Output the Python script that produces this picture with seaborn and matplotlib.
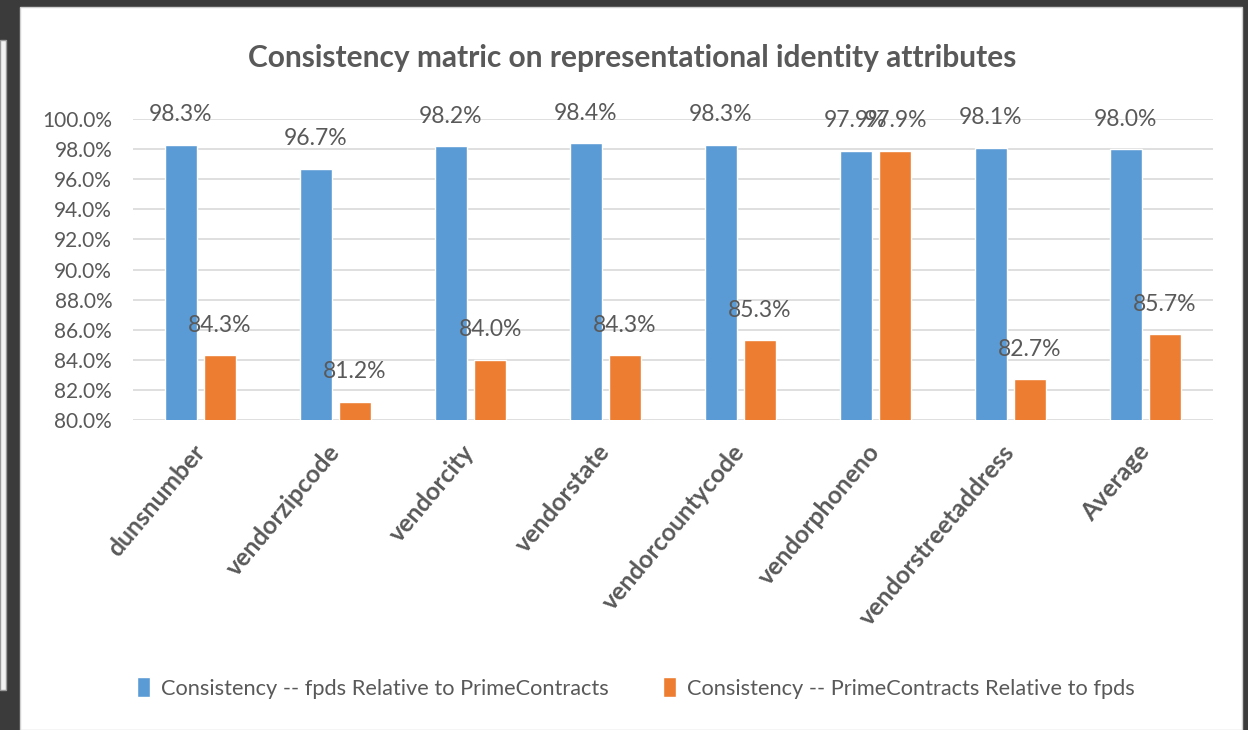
import matplotlib
matplotlib.use("Agg")
import matplotlib.pyplot as plt
import matplotlib.patches as mpatches
import seaborn as sns
import pandas as pd
from matplotlib.ticker import FuncFormatter

categories = ["dunsnumber", "vendorzipcode", "vendorcity", "vendorstate",
              "vendorcountycode", "vendorphoneno", "vendorstreetaddress", "Average"]
fpds_rel_prime = [98.3, 96.7, 98.2, 98.4, 98.3, 97.9, 98.1, 98.0]
prime_rel_fpds = [84.3, 81.2, 84.0, 84.3, 85.3, 97.9, 82.7, 85.7]
series_names = ["Consistency -- fpds Relative to PrimeContracts",
                "Consistency -- PrimeContracts Relative to fpds"]
title = "Consistency matric on representational identity attributes"

df = pd.DataFrame({
    "category": categories * 2,
    "value": fpds_rel_prime + prime_rel_fpds,
    "series": [series_names[0]] * len(categories) + [series_names[1]] * len(categories),
})

sns.set_theme(style="white")
plt.rcParams["font.family"] = ["Lato", "DejaVu Sans"]
TXT = "#595959"

fig = plt.figure(figsize=(12.48, 7.30), dpi=100, facecolor="#3b3b3b")
# white chart area inside dark screenshot frame
fig.patches.append(mpatches.Rectangle((20 / 1248, 0), 1222 / 1248, 723 / 730,
                                      transform=fig.transFigure, facecolor="white",
                                      edgecolor="#d0d0d0", lw=1, zorder=-10))
fig.patches.append(mpatches.Rectangle((0, 40 / 730), 6 / 1248, 650 / 730,
                                      transform=fig.transFigure, facecolor="#f2f2f2",
                                      edgecolor="#9a9a9a", lw=1, zorder=-10))

ax = fig.add_axes([133 / 1248, 1 - 420 / 730, 1080 / 1248, 301 / 730])
ax.set_facecolor("none")

palette = {series_names[0]: "#5b9bd5", series_names[1]: "#ed7d31"}
sns.barplot(data=df, x="category", y="value", hue="series", order=categories,
            hue_order=series_names, palette=palette, width=0.58, gap=0.2,
            saturation=1, ax=ax, errorbar=None, zorder=3)

ax.set_ylim(80, 100)
ax.set_yticks(range(80, 101, 2))
ax.yaxis.set_major_formatter(FuncFormatter(lambda v, p: f"{v:.1f}%"))
ax.grid(axis="y", color="#d9d9d9", lw=1.2, zorder=0)
for s in ax.spines.values():
    s.set_visible(False)
ax.tick_params(axis="both", length=0, colors=TXT, labelsize=15)
ax.tick_params(axis="y", pad=15)
ax.set_xlabel("")
ax.set_ylabel("")

for lbl in ax.get_xticklabels():
    lbl.set_rotation(50)
    lbl.set_rotation_mode("anchor")
    lbl.set_ha("right")
    lbl.set_va("center")
    lbl.set_fontweight("bold")
    lbl.set_fontsize(17.8)
    lbl.set_color(TXT)
ax.tick_params(axis="x", pad=20)

for cont in ax.containers:
    for bar in cont:
        h = bar.get_height()
        ax.annotate(f"{h:.1f}%", (bar.get_x() + bar.get_width() / 2, h),
                    xytext=(0, 30), textcoords="offset pixels", ha="center",
                    va="center", fontsize=16.5, color=TXT, annotation_clip=False,
                    zorder=5)

fig.text(632 / 1248, 1 - 58 / 730, title, ha="center", va="center",
         fontsize=21.5, fontweight="bold", color=TXT)

sns.move_legend(ax, "center", bbox_to_anchor=(636 / 1248, 42 / 730),
                bbox_transform=fig.transFigure, ncol=2, frameon=False, title=None,
                fontsize=15.7, handlelength=0.6, handleheight=1.0,
                handletextpad=0.5, columnspacing=2.5)
for t in ax.get_legend().get_texts():
    t.set_color(TXT)

fig.savefig("out.png", dpi=100, facecolor=fig.get_facecolor())
